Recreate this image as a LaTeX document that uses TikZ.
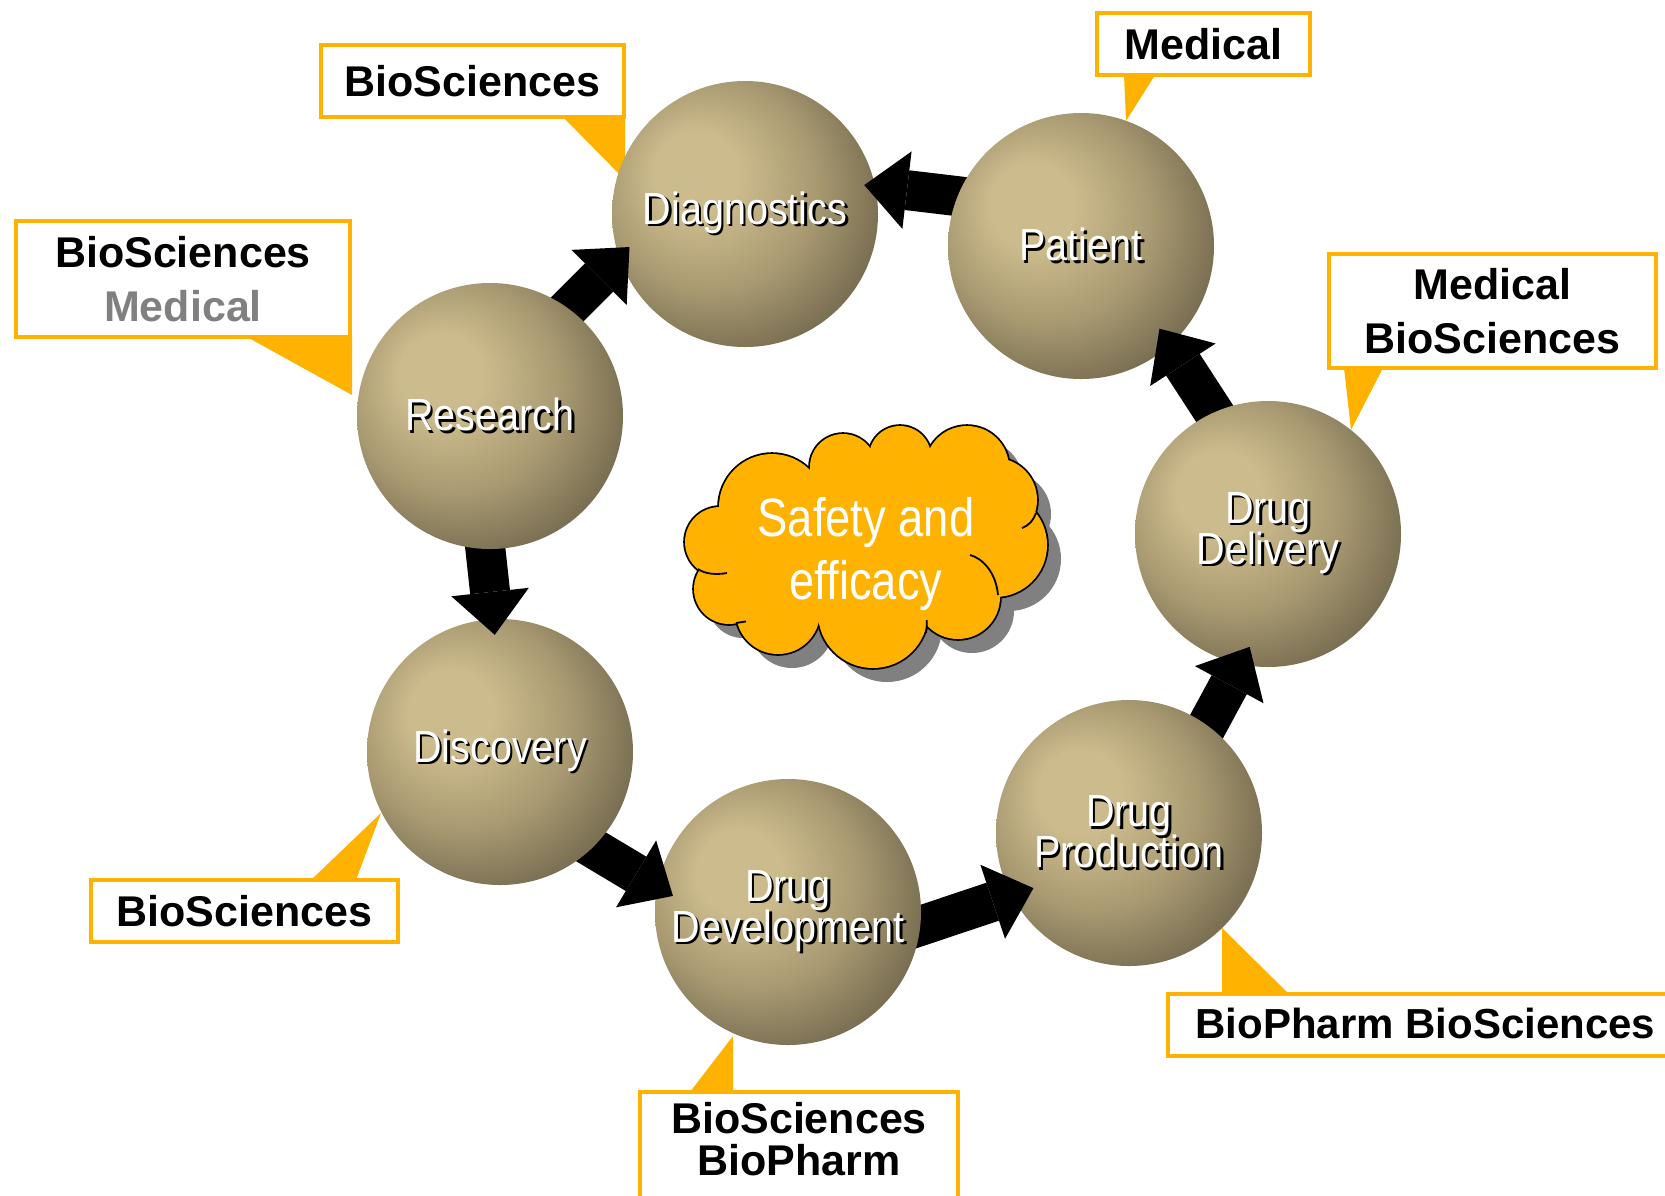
\documentclass[tikz,border=0pt]{standalone}
\usepackage{fontspec}
\setmainfont{Liberation Sans}
\newfontfamily\narrowfont[FakeStretch=0.88]{Liberation Sans}
\newfontfamily\cloudfont[FakeStretch=0.84]{Liberation Sans}
\usetikzlibrary{arrows.meta}
\definecolor{callorange}{RGB}{255,178,0}
\definecolor{balllight}{RGB}{204,187,140}
\definecolor{ballmid}{RGB}{168,153,113}
\definecolor{balldark}{RGB}{123,112,83}
\definecolor{shadowgray}{RGB}{128,128,128}
\definecolor{medgray}{RGB}{128,128,128}
\pgfdeclareradialshading{tanball}{\pgfpoint{-11bp}{9bp}}{color(0bp)=(balllight); color(8bp)=(balllight); color(20bp)=(ballmid); color(30bp)=(balldark); color(50bp)=(balldark)}
\pgfdeclarelayer{bg}
\pgfdeclarelayer{cA}\pgfdeclarelayer{aA}
\pgfdeclarelayer{cB}\pgfdeclarelayer{aB}
\pgfdeclarelayer{cC}\pgfdeclarelayer{aC}
\pgfdeclarelayer{cD}\pgfdeclarelayer{aD}
\pgfdeclarelayer{cE}\pgfdeclarelayer{aE}
\pgfdeclarelayer{cF}\pgfdeclarelayer{aF}
\pgfdeclarelayer{cG}
\pgfsetlayers{bg,main,cA,aA,cB,aB,cC,aC,cD,aD,cE,aE,cF,aF,cG}
\newcommand\stk[1]{\vbox{\baselineskip=41pt\lineskiplimit=-100pt\halign{\hfil##\hfil\cr#1\crcr}}}
\newcommand\shtxt[1]{\leavevmode\rlap{\kern2.5pt\raisebox{-2.5pt}{\color{black}\stk{#1}}}{\color{white}\stk{#1}}}
\def\puffs{720/542/35, 729/589/35, 778/612/42, 873/613/55, 958/597/42, 995/545/52, 995/500/42, 967/468/42, 900/457/31, 843/467/33, 772/507/53}
\tikzset{
  ball/.style={circle, minimum size=266pt, inner sep=0pt, outer sep=0pt, shade, shading=tanball,
    font=\narrowfont\fontsize{45}{41}\selectfont},
  bigarrow/.style={line width=40pt, -{Triangle[length=43pt,width=78pt,line width=0pt]}, shorten <=-30pt},
  callbox/.style={draw=callorange, line width=4pt, fill=white, inner sep=0pt},
  boxtext/.style={font=\bfseries\fontsize{43}{54}\selectfont, align=center, text=black},
  tail/.style={fill=callorange},
  hook/.style={line width=1.8pt}
}
\begin{document}
\begin{tikzpicture}[x=1pt,y=-1pt]
\useasboundingbox (0,0) rectangle (1665,1195);

% background and callout tails
\begin{pgfonlayer}{bg}
\fill[white] (0,0) rectangle (1665,1195);
\fill[tail] (563,117) -- (625,117) -- (625,180) -- cycle;
\fill[tail] (247,337) -- (352,337) -- (352,395) -- cycle;
\fill[tail] (1124,75) -- (1155,75) -- (1126,121) -- cycle;
\fill[tail] (1344,368) -- (1383,368) -- (1351,430) -- cycle;
\fill[tail] (311,880) -- (356,880) -- (381,813) -- cycle;
\fill[tail] (690,1092) -- (733,1092) -- (733,1036) -- cycle;
\fill[tail] (1222,994) -- (1289,994) -- (1222,928) -- cycle;
\end{pgfonlayer}

% callout boxes
\node[callbox, boxtext, minimum width=303pt, minimum height=72pt] (cb1) at (472.5,81) {BioSciences};
\node[callbox, boxtext, minimum width=334pt, minimum height=116pt] (cb2) at (183,279) {BioSciences\\\textcolor{medgray}{Medical}};
\node[callbox, boxtext, minimum width=213pt, minimum height=62pt] (cb3) at (1203.5,44) {Medical};
\node[callbox, boxtext, minimum width=327pt, minimum height=114pt] (cb4) at (1492.5,311) {Medical\\BioSciences};
\node[callbox, boxtext, minimum width=307pt, minimum height=62pt] (cb5) at (244.5,911) {BioSciences};
\node[callbox, minimum width=318pt, minimum height=158pt] (cb6) at (799,1171) {};
\node[boxtext, font=\bfseries\fontsize{43}{42}\selectfont] (cb6t) at (799,1139) {BioSciences\\BioPharm};
\node[callbox, minimum width=552pt, minimum height=62pt] (cb7) at (1444,1025) {};
\node[boxtext, font=\bfseries\fontsize{42}{50}\selectfont, anchor=west] (cb7t) at (1192,1023) {BioPharm BioSciences};

% cloud
\foreach \cx/\cy/\cr in \puffs {\fill[shadowgray] (\cx+14,\cy+14) circle[radius=\cr];}
\fill[shadowgray] (880,562) ellipse[x radius=120, y radius=75];
\foreach \cx/\cy/\cr in \puffs {\draw[line width=3.6pt] (\cx,\cy) circle[radius=\cr];}
\fill[callorange] (866,548) ellipse[x radius=120, y radius=75];
\fill[callorange] (871,478) circle[radius=22];
\fill[callorange] (925,490) circle[radius=20];
\foreach \cx/\cy/\cr in \puffs {\fill[callorange] (\cx,\cy) circle[radius=\cr];}
\draw[hook] (698,569) .. controls (705,574) and (716,575) .. (727,573);
\draw[hook] (970,555) .. controls (982,558) and (996,572) .. (998,595);
\draw[hook] (1036,513) .. controls (1033,521) and (1028,526) .. (1022,528);
\draw[hook] (736,623) .. controls (739,622.5) and (742,622) .. (746,621.5);
\draw[hook] (926.7,620) .. controls (927,624) and (926.5,629) .. (926,633);
\node[text=white, font=\cloudfont\fontsize{54}{63}\selectfont, align=center] (cloudtxt) at (866,554) {Safety and\\efficacy};

% circles
\begin{pgfonlayer}{cA}\node[ball] (diag) at (745,214) {\shtxt{Diagnostics}};\end{pgfonlayer}
\begin{pgfonlayer}{cB}\node[ball] (patient) at (1081,246) {\shtxt{Patient}};\end{pgfonlayer}
\begin{pgfonlayer}{cC}\node[ball] (delivery) at (1268,534) {\shtxt{Drug\cr Delivery}};\end{pgfonlayer}
\begin{pgfonlayer}{cD}\node[ball] (prod) at (1129,833) {\shtxt{Drug\cr Production}};\end{pgfonlayer}
\begin{pgfonlayer}{cE}\node[ball] (dev) at (788,912) {\shtxt{Drug\cr Development}};\end{pgfonlayer}
\begin{pgfonlayer}{cF}\node[ball] (discovery) at (500,752) {\shtxt{Discovery}};\end{pgfonlayer}
\begin{pgfonlayer}{cG}\node[ball] (research) at (490,416) {\shtxt{Research}};\end{pgfonlayer}

% arrows
\begin{pgfonlayer}{aA}
\draw[bigarrow, shorten >=-10.9pt] (patient.158.8) -- (diag.12.7);
\draw[bigarrow, shorten >=-14.5pt] (research.54.5) -- (diag.199.3);
\end{pgfonlayer}
\begin{pgfonlayer}{aB}
\draw[bigarrow, shorten >=-19.3pt] (delivery.114.6) -- (patient.-48.8);
\end{pgfonlayer}
\begin{pgfonlayer}{aC}
\draw[bigarrow, shorten >=-19.6pt] (prod.54.4) -- (delivery.258);
\end{pgfonlayer}
\begin{pgfonlayer}{aD}
\draw[bigarrow, shorten >=-23.1pt] (dev.-6.4) -- (prod.208.4);
\end{pgfonlayer}
\begin{pgfonlayer}{aE}
\draw[bigarrow, shorten >=-18.1pt] (discovery.-46.3) -- (dev.169.1);
\end{pgfonlayer}
\begin{pgfonlayer}{aF}
\draw[bigarrow, shorten >=-15.7pt] (research.268.3) -- (discovery.93.9);
\end{pgfonlayer}
\end{tikzpicture}
\end{document}
